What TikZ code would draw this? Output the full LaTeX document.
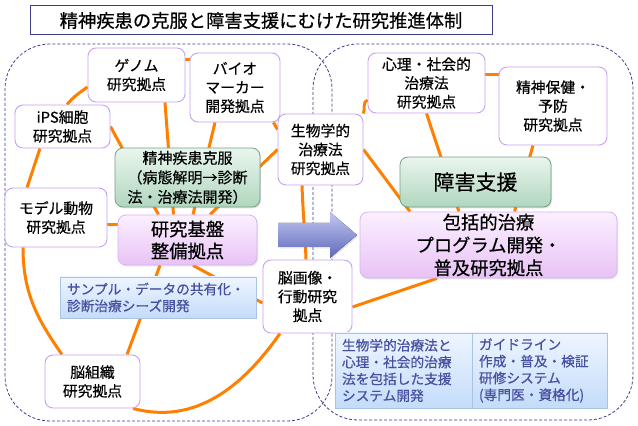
\documentclass[tikz,border=0pt]{standalone}
\usepackage{fontspec}
\setmainfont{Noto Sans CJK JP}[FakeBold=0.5]
\usetikzlibrary{shadows,calc}
\definecolor{oline}{RGB}{255,128,0}
\definecolor{navy}{RGB}{60,60,140}
\definecolor{wborder}{RGB}{200,160,240}
\definecolor{gborder}{RGB}{120,160,135}
\definecolor{gtop}{RGB}{234,246,238}
\definecolor{gbot}{RGB}{176,214,190}
\definecolor{pborder}{RGB}{215,180,240}
\definecolor{ptop}{RGB}{251,240,255}
\definecolor{pbot}{RGB}{232,194,246}
\definecolor{bborder}{RGB}{170,195,225}
\definecolor{btop}{RGB}{238,245,255}
\definecolor{bbot}{RGB}{196,220,250}
\definecolor{btext}{RGB}{70,80,160}
\definecolor{atop}{RGB}{195,200,242}
\definecolor{abot}{RGB}{95,105,185}
\pgfdeclarelayer{bg}
\pgfdeclarelayer{lines}
\pgfdeclarelayer{arr}
\pgfsetlayers{bg,lines,arr,main}
\begin{document}
\begin{tikzpicture}[x=1pt,y=1pt,
  wbox/.style={draw=wborder, line width=0.9pt, fill=white, rounded corners=8pt,
    align=center, inner sep=0pt, text=black, font=\fontsize{14.8}{18.8}\selectfont},
  gbox/.style={draw=gborder, line width=0.8pt, top color=gtop, bottom color=gbot,
    rounded corners=8pt, align=center, inner sep=0pt, text=black,
    drop shadow={opacity=0.25, shadow xshift=1pt, shadow yshift=-1.5pt}},
  pbox/.style={draw=pborder, line width=0.8pt, top color=ptop, bottom color=pbot,
    rounded corners=8pt, align=center, inner sep=0pt, text=black,
    drop shadow={opacity=0.2, shadow xshift=1pt, shadow yshift=-1.5pt}},
  bbox/.style={draw=bborder, line width=0.8pt, top color=btop, bottom color=bbot,
    inner xsep=7pt, inner ysep=0pt, align=left, text=btext,
    font=\fontsize{13.7}{16.8}\selectfont,
    drop shadow={opacity=0.2, shadow xshift=1pt, shadow yshift=-1.5pt}},
  conn/.style={draw=oline, line width=3pt},
  region/.style={draw=navy, line width=0.8pt, dash pattern=on 3pt off 2pt, rounded corners=45pt},
]
\useasboundingbox (0,0) rectangle (638,426);

% title
\node[draw=navy, line width=1pt, fill=white, minimum width=462pt, minimum height=29pt, inner sep=0pt,
  font=\fontsize{18.3}{22}\selectfont] (title) at (261,405.5) {精神疾患の克服と障害支援にむけた研究推進体制};

% nodes
\node[wbox, minimum width=97pt, minimum height=54pt] (genome) at (136.5,351) {ゲノム\\研究拠点};
\node[wbox, minimum width=90pt, minimum height=69pt] (bio) at (235,338.5) {バイオ\\マーカー\\開発拠点};
\node[wbox, minimum width=95pt, minimum height=43pt] (ips) at (62.5,299.5) {iPS細胞\\研究拠点};
\node[gbox, minimum width=145pt, minimum height=59pt, font=\fontsize{15}{19.5}\selectfont] (seishin) at (187.5,248.5) {精神疾患克服\\（病態解明→診断\\法・治療法開発）};
\node[wbox, minimum width=102pt, minimum height=59pt] (model) at (56,208.5) {モデル動物\\研究拠点};
\node[pbox, minimum width=139pt, minimum height=50pt, font=\fontsize{18.3}{22}\selectfont] (kiban) at (187.5,186) {研究基盤\\整備拠点};
\node[bbox, minimum height=41pt, text width=182pt] (sample) at (158,128.5) {サンプル・データの共有化・\\診断治療シーズ開発};
\node[wbox, minimum width=95pt, minimum height=53pt] (nososhiki) at (92.5,44.5) {脳組織\\研究拠点};
\node[wbox, minimum width=85pt, minimum height=71pt] (seibutsu) at (320.5,276.5) {生物学的\\治療法\\研究拠点};
\node[wbox, minimum width=89pt, minimum height=73pt] (nogazo) at (307.5,129.5) {脳画像・\\行動研究\\拠点};
\node[wbox, minimum width=117pt, minimum height=60pt] (shinri) at (426.5,343) {心理・社会的\\治療法\\研究拠点};
\node[wbox, minimum width=108pt, minimum height=78pt] (hoken) at (553,320) {精神保健・\\予防\\研究拠点};
\node[gbox, minimum width=151pt, minimum height=50pt, font=\fontsize{21}{25}\selectfont] (shogai) at (475.5,244) {障害支援};
\node[pbox, minimum width=257pt, minimum height=66pt, font=\fontsize{18.3}{22.8}\selectfont] (hokatsu) at (488.5,181) {包括的治療\\プログラム開発・\\普及研究拠点};
\node[bbox, minimum height=75pt, text width=123pt] (blueA) at (403.5,55.5) {生物学的治療法と\\心理・社会的治療\\法を包括した支援\\システム開発};
\node[bbox, minimum height=75pt, text width=121pt] (blueB) at (539.5,55.5) {ガイドライン\\作成・普及・検証\\研修システム\\(専門医・資格化)};

% regions
\begin{pgfonlayer}{bg}
\draw[region] (5,5) rectangle (332,382);
\draw[region] (313,6) rectangle (633,382);
\end{pgfonlayer}

% connectors
\begin{pgfonlayer}{lines}
\draw[conn] ([yshift=15pt]genome.east) -- ([yshift=27.5pt]bio.west);
\draw[conn] ([yshift=-12pt]genome.west) to[out=215,in=50] ([xshift=4.5pt]ips.north);
\draw[conn] ([xshift=-22.5pt]ips.south) -- ([xshift=-29pt]model.north);
\draw[conn] ([xshift=-33pt]model.south) to[out=-90,in=125] ([xshift=-30.5pt]nososhiki.north);
\draw[conn] ([xshift=40.5pt]nososhiki.south) to[out=-15,in=-125] ([xshift=-27.5pt]nogazo.south);
\draw[conn] ([xshift=-18.5pt]seibutsu.south) to[out=-88,in=92] ([xshift=-1.5pt]nogazo.north);
\draw[conn] ([xshift=-7pt]bio.south east) -- ([yshift=-16pt]seibutsu.north west);
% spokes left
\draw[conn] (ips.east) -- ([xshift=-29pt]kiban.north);
\draw[conn] ([xshift=28.5pt]genome.south) -- ([xshift=-14pt]kiban.north);
\draw[conn] ([xshift=-20pt]bio.south) -- ([xshift=5.5pt]kiban.north);
\draw[conn] (seibutsu.west) -- ([xshift=22.5pt]kiban.north);
\draw[conn] ([yshift=-7.5pt]model.east) -- ([yshift=15pt]kiban.west);
\draw[conn] ([xshift=-27.5pt]kiban.south) -- ([xshift=34.5pt]nososhiki.north);
\draw[conn] ([xshift=5.5pt]kiban.south) -- ([yshift=-6.5pt]nogazo.west);
% right side
\draw[conn] ([yshift=-10.5pt]nogazo.east) -- ([xshift=-51.5pt]hokatsu.south);
\draw[conn] (seibutsu.north east) to[out=70,in=200] ([yshift=-17pt]shinri.west);
\draw[conn] (seibutsu.east) -- ([xshift=-78.5pt]hokatsu.north);
\draw[conn] (shinri.south) -- ([xshift=-29.5pt]hokatsu.north);
\draw[conn] ([xshift=-20pt]hoken.south) -- ([xshift=26pt]hokatsu.north);
\draw[conn] ([yshift=8pt]shinri.east) -- ([yshift=31pt]hoken.west);
\end{pgfonlayer}

% big arrow
\begin{pgfonlayer}{arr}
\fill[top color=atop, bottom color=abot, drop shadow={opacity=0.2, shadow xshift=1pt, shadow yshift=-1.5pt}]
  (278,179) -- (330,179) -- (330,168) -- (357,191) -- (330,214) -- (330,203) -- (278,203) -- cycle;
\end{pgfonlayer}
\end{tikzpicture}
\end{document}
